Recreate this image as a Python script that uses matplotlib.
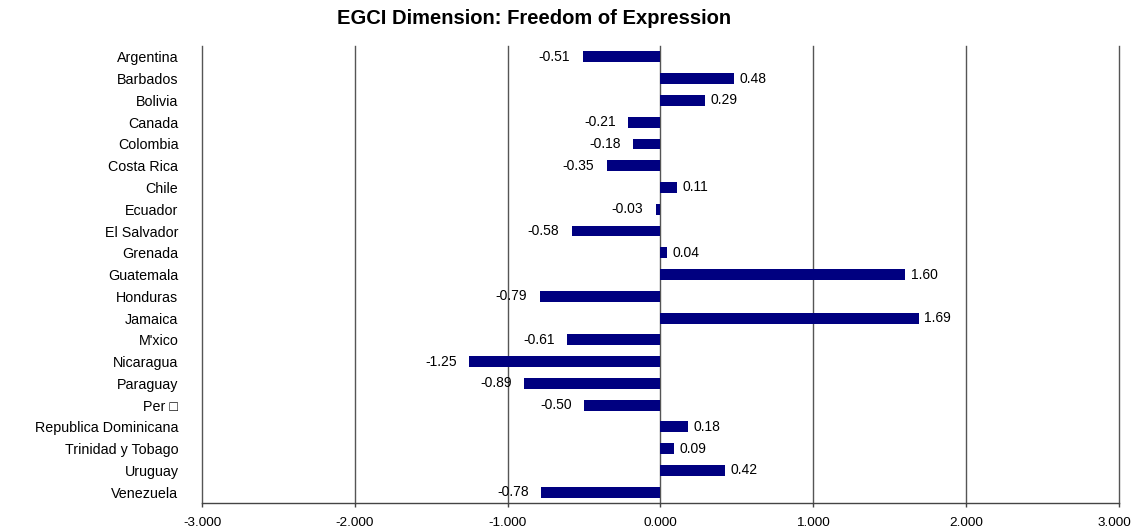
import matplotlib
matplotlib.use("Agg")
import matplotlib.pyplot as plt
import matplotlib.transforms as mtransforms

countries = ["Argentina", "Barbados", "Bolivia", "Canada", "Colombia", "Costa Rica",
             "Chile", "Ecuador", "El Salvador", "Grenada", "Guatemala", "Honduras",
             "Jamaica", "M'xico", "Nicaragua", "Paraguay", "Per \u25a1",
             "Republica Dominicana", "Trinidad y Tobago", "Uruguay", "Venezuela"]
scores = [-0.51, 0.48, 0.29, -0.21, -0.18, -0.35, 0.11, -0.03, -0.58, 0.04, 1.60,
          -0.79, 1.69, -0.61, -1.25, -0.89, -0.50, 0.18, 0.09, 0.42, -0.78]
xticks = [-3, -2, -1, 0, 1, 2, 3]
xtick_labels = ["-3.000", "-2.000", "-1.000", "0.000", "1.000", "2.000", "3.000"]

plt.rcParams['font.family'] = ['Liberation Sans', 'DejaVu Sans']

fig = plt.figure(figsize=(11.33, 5.29), dpi=100)
ax = fig.add_axes([0.1783, 0.049, 0.8093, 0.864])

ypos = list(range(len(countries)))
ax.barh(ypos, scores, height=0.5, color="#000080", zorder=3)
ax.set_ylim(len(countries) - 0.5, -0.5)
ax.set_xlim(-3, 3)

for y, v in zip(ypos, scores):
    if v >= 0:
        ax.annotate(f"{v:.2f}", (v, y), xytext=(4, 0), textcoords="offset points",
                    ha="left", va="center", fontsize=10, zorder=4)
    else:
        ax.annotate(f"{v:.2f}", (v, y), xytext=(-9, 0), textcoords="offset points",
                    ha="right", va="center", fontsize=10, zorder=4)

ax.set_xticks(xticks)
ax.set_xticklabels(xtick_labels, fontsize=9.7)
ax.set_yticks(ypos)
ax.set_yticklabels(countries, fontsize=10.3)
ax.tick_params(axis="y", length=0, pad=17)
ax.tick_params(axis="x", length=3, width=1, color="#444444", pad=7)

# nudge the rightmost tick label so it stays inside the canvas
last = ax.get_xticklabels()[-1]
last.set_transform(last.get_transform() +
                   mtransforms.ScaledTranslation(-3 / 72, 0, fig.dpi_scale_trans))

for x in xticks:
    ax.axvline(x, color="#555555", linewidth=1, zorder=1, clip_on=False)

for side in ["top", "right", "left"]:
    ax.spines[side].set_visible(False)
ax.spines["bottom"].set_color("#444444")
ax.spines["bottom"].set_linewidth(1)

fig.text(0.471, 0.965, "EGCI Dimension: Freedom of Expression", ha="center", va="center",
         fontsize=14.5, fontweight="bold")

fig.savefig("out.png", dpi=100)
